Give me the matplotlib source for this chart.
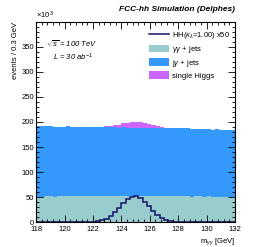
import numpy as np
import matplotlib
matplotlib.use("Agg")
import matplotlib.pyplot as plt
from matplotlib.patches import Patch
from matplotlib.lines import Line2D
from matplotlib.ticker import MultipleLocator

plt.rcParams['font.family'] = ['Liberation Sans', 'DejaVu Sans']
plt.rcParams['mathtext.fontset'] = 'custom'
plt.rcParams['mathtext.rm'] = 'Liberation Sans'
plt.rcParams['mathtext.it'] = 'Liberation Sans:italic'

# 47 bins of 0.3 GeV from 118 GeV (values in units of 10^3 events)
bin_width = 0.3
x_start = 118.0
gg_jets = [51, 51, 52, 52, 51, 52, 52, 52, 52, 52, 52, 52, 52, 52, 52, 52,
           52, 52, 52, 52, 52, 52, 52, 52, 52, 52, 52, 52, 52, 52, 52, 52,
           52, 52, 52, 52, 51, 52, 52, 51, 52, 51, 51, 51, 51, 51, 51]
jg_jets = [140, 140, 139, 139, 139, 138, 138, 139, 138, 138, 138, 138, 137, 137, 137, 137,
           137, 137, 137, 136, 137, 136, 136, 136, 136, 136, 135, 136, 136, 136, 135, 135,
           135, 136, 136, 135, 135, 134, 134, 134, 134, 133, 134, 133, 133, 132, 132]
single_higgs = [0, 0, 0, 0, 0, 0, 0, 0, 0, 0, 0, 0, 0, 0, 0.5, 1.5,
                2.5, 4, 5.5, 7, 9, 10.5, 11.5, 12, 11.5, 10, 8.5, 6.5, 4.5, 3, 1.5, 0.8,
                0.3, 0, 0, 0, 0, 0, 0, 0, 0, 0, 0, 0, 0, 0, 0]
hh_x50 = [0, 0, 0, 0, 0, 0, 0, 0, 0, 0, 0, 0, 0, 0, 1.5, 3.7,
          7, 12.3, 19.5, 28.4, 37.8, 45.9, 51, 51.7, 48, 40.7, 31.5, 22.3, 14.4, 8.5, 4.6, 2.3,
          1, 0, 0, 0, 0, 0, 0, 0, 0, 0, 0, 0, 0, 0, 0]

edges = x_start + bin_width * np.arange(len(gg_jets) + 1)
centers = 0.5 * (edges[:-1] + edges[1:])
gg = np.array(gg_jets)
jg = gg + np.array(jg_jets)
h = np.array(single_higgs)
keep = h > 0

fig = plt.figure(figsize=(2.58, 2.47), dpi=100)
ax = fig.add_axes([0.14, 0.101, 0.771, 0.81])

c_gg = '#99cccc'
c_jg = '#3399ff'
c_sh = '#cc66ff'
c_hh = '#14146a'

ax.bar(centers[keep], h[keep], width=bin_width * 1.02, bottom=jg[keep] - 0.5, color=c_sh, lw=0)
ax.stairs(jg, edges, baseline=0, fill=True, color=c_jg, lw=0)
ax.stairs(gg, edges, baseline=0, fill=True, color=c_gg, lw=0)
ax.stairs(np.array(hh_x50), edges, baseline=None, color=c_hh, lw=1.1)

ax.set_xlim(118, 132)
ax.set_ylim(0, 399.9)
ax.xaxis.set_major_locator(MultipleLocator(2))
ax.xaxis.set_minor_locator(MultipleLocator(0.4))
ax.yaxis.set_major_locator(MultipleLocator(50))
ax.yaxis.set_minor_locator(MultipleLocator(10))
ax.tick_params(which='both', direction='in', top=True, right=True, labelsize=5.5)
ax.tick_params(axis='x', pad=2.5)
ax.tick_params(axis='y', pad=1.5)
ax.tick_params(which='major', length=5, width=0.6)
ax.tick_params(which='minor', length=2.5, width=0.6)
for s in ax.spines.values():
    s.set_linewidth(0.8)

ax.set_ylabel('events / 0.3 GeV', fontsize=5.5, loc='top', labelpad=2)
ax.set_xlabel(r'm$_{\gamma\gamma}$ [GeV]', fontsize=5.5, loc='right', labelpad=3)
ax.text(0.0, 1.005, r'$\times$10$^{3}$', transform=ax.transAxes, fontsize=5.5, va='bottom', ha='left')
ax.text(1.0, 1.045, 'FCC-hh Simulation (Delphes)', transform=ax.transAxes,
        fontsize=6, fontweight='bold', style='italic', ha='right', va='bottom')
ax.text(0.05, 0.89, r'$\sqrt{s}$ = 100 TeV', transform=ax.transAxes, fontsize=5.5, style='italic', va='center')
ax.text(0.085, 0.825, r'L = 30 ab$^{-1}$', transform=ax.transAxes, fontsize=5.5, style='italic', va='center')

handles = [Line2D([], [], color=c_hh, lw=1.1),
           Patch(facecolor=c_gg, edgecolor='none'),
           Patch(facecolor=c_jg, edgecolor='none'),
           Patch(facecolor=c_sh, edgecolor='none')]
labels = [r'HH($\kappa_\lambda$=1.00) x50', r'$\gamma\gamma$ + jets', r'j$\gamma$ + jets', 'single Higgs']
ax.legend(handles, labels, loc='upper right', bbox_to_anchor=(1.0, 0.985), fontsize=5.5,
          frameon=False, handlelength=2.6, handleheight=1.2, labelspacing=0.35,
          handletextpad=0.4, borderaxespad=0.3)

fig.savefig('out.png', dpi=100)
